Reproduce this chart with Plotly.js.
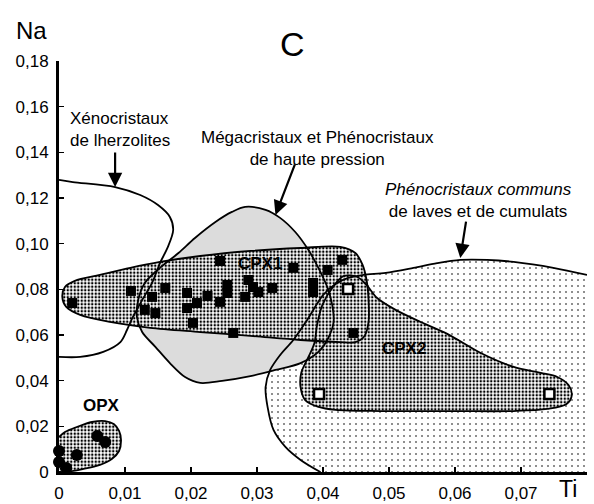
<!DOCTYPE html>
<html>
<head>
<meta charset="utf-8">
<script src="https://cdn.plot.ly/plotly-3.0.1.min.js"></script>
<style>html,body{margin:0;padding:0;background:#fff;}#chart{width:594px;height:504px;}</style>
</head>
<body>
<div id="chart"></div>
<script>
// ---- Data (Ti, Na) ----
const xenoTi = [0, 0.0021, 0.0085, 0.0123, 0.0150, 0.0168, 0.0173, 0.0165, 0.0153, 0.0141, 0.0126, 0.0112, 0.0103, 0.0093, 0.0067, 0.0032, 0];
const xenoNa = [0.1279, 0.1270, 0.1248, 0.1213, 0.1169, 0.1117, 0.1060, 0.0986, 0.0915, 0.0828, 0.0753, 0.0679, 0.0622, 0.0569, 0.0526, 0.0504, 0.0504];

const megaTi = [0.0282, 0.0313, 0.0335, 0.0358, 0.0378, 0.0393, 0.0407, 0.0414, 0.0416, 0.0408, 0.0393, 0.0366, 0.0328, 0.0290, 0.0247, 0.0214, 0.0191, 0.0168, 0.0146, 0.0126, 0.0118, 0.0120, 0.0130, 0.0153, 0.0181, 0.0206, 0.0237, 0.0262, 0.0282];
const megaNa = [0.1161, 0.1148, 0.1113, 0.1051, 0.0972, 0.0894, 0.0806, 0.0731, 0.0657, 0.0587, 0.0526, 0.0477, 0.0447, 0.0420, 0.0399, 0.0390, 0.0416, 0.0477, 0.0548, 0.0613, 0.0679, 0.0753, 0.0828, 0.0894, 0.0959, 0.1025, 0.1095, 0.1139, 0.1161];

const cpx1Ti = [0.0214, 0.0290, 0.0366, 0.0426, 0.0449, 0.0460, 0.0466, 0.0469, 0.0469, 0.0463, 0.0449, 0.0426, 0.0366, 0.0290, 0.0214, 0.0138, 0.0077, 0.0032, 0.0011, 0.0005, 0.0009, 0.0024, 0.0062, 0.0108, 0.0153, 0.0214];
const cpx1Na = [0.0946, 0.0968, 0.0981, 0.0986, 0.0959, 0.0907, 0.0841, 0.0753, 0.0657, 0.0596, 0.0569, 0.0569, 0.0578, 0.0596, 0.0613, 0.0631, 0.0657, 0.0688, 0.0723, 0.0767, 0.0810, 0.0837, 0.0863, 0.0894, 0.0920, 0.0946];

const cpx2Ti = [0.0593, 0.0487, 0.0419, 0.0393, 0.0373, 0.0366, 0.0367, 0.0378, 0.0387, 0.0391, 0.0399, 0.0414, 0.0431, 0.0452, 0.0466, 0.0482, 0.0510, 0.0548, 0.0589, 0.0639, 0.0689, 0.0730, 0.0755, 0.0772, 0.0777, 0.0769, 0.0740, 0.0689, 0.0593];
const cpx2Na = [0.0267, 0.0267, 0.0272, 0.0285, 0.0315, 0.0372, 0.0434, 0.0504, 0.0565, 0.0644, 0.0731, 0.0806, 0.0858, 0.0854, 0.0819, 0.0762, 0.0710, 0.0657, 0.0604, 0.0521, 0.0460, 0.0434, 0.0416, 0.0381, 0.0337, 0.0298, 0.0276, 0.0267, 0.0267];

const lavaTi = [0.0800, 0.0749, 0.0689, 0.0649, 0.0608, 0.0573, 0.0537, 0.0495, 0.0461, 0.0438, 0.0419, 0.0400, 0.0376, 0.0355, 0.0335, 0.0320, 0.0313, 0.0316, 0.0325, 0.0343, 0.0366, 0.0396, 0.0800];
const lavaNa = [0.0863, 0.0894, 0.0920, 0.0929, 0.0929, 0.0915, 0.0894, 0.0872, 0.0863, 0.0850, 0.0823, 0.0775, 0.0666, 0.0578, 0.0512, 0.0447, 0.0372, 0.0285, 0.0184, 0.0110, 0.0053, 0, 0];

const opxTi = [0, 0.0009, 0.0027, 0.0050, 0.0070, 0.0083, 0.0091, 0.0094, 0.0091, 0.0080, 0.0062, 0.0036, 0.0009, 0];
const opxNa = [0.0153, 0.0175, 0.0197, 0.0219, 0.0223, 0.0210, 0.0180, 0.0140, 0.0092, 0.0057, 0.0031, 0.0013, 0, 0];

// analyses
const cpx1PtsTi = [0.0020, 0.0109, 0.0141, 0.0130, 0.0146, 0.0161, 0.0194, 0.0194, 0.0209, 0.0225, 0.0203, 0.0244, 0.0255, 0.0255, 0.0244, 0.0264, 0.0287, 0.0294, 0.0282, 0.0302, 0.0323, 0.0355, 0.0385, 0.0385, 0.0407, 0.0429, 0.0446];
const cpx1PtsNa = [0.0740, 0.0793, 0.0767, 0.0710, 0.0696, 0.0806, 0.0784, 0.0718, 0.0740, 0.0771, 0.0653, 0.0924, 0.0819, 0.0784, 0.0745, 0.0609, 0.0841, 0.0810, 0.0767, 0.0788, 0.0806, 0.0894, 0.0828, 0.0788, 0.0885, 0.0929, 0.0609];
const cpx2PtsTi = [0.0438, 0.0394, 0.0743];
const cpx2PtsNa = [0.0802, 0.0342, 0.0342];
const opxPtsTi = [0.0058, 0.0070, 0.0027, 0.0000, 0.0000, 0.0011];
const opxPtsNa = [0.0158, 0.0131, 0.0074, 0.0092, 0.0044, 0.0018];

const xTickVals = [0, 0.01, 0.02, 0.03, 0.04, 0.05, 0.06, 0.07];
const xTickText = ['0', '0,01', '0,02', '0,03', '0,04', '0,05', '0,06', '0,07'];
const yTickVals = [0, 0.02, 0.04, 0.06, 0.08, 0.10, 0.12, 0.14, 0.16, 0.18];
const yTickText = ['0', '0,02', '0,04', '0,06', '0,08', '0,10', '0,12', '0,14', '0,16', '0,18'];

// ---- Traces ----
const FONT = 'Liberation Sans, Arial, Helvetica, sans-serif';
const spline = {shape: 'spline', smoothing: 0.9};
function fillTrace(x, y, pattern, fillcolor) {
  const t = {x: x, y: y, mode: 'lines', fill: 'toself', hoverinfo: 'skip',
    line: Object.assign({width: 0, color: 'rgba(0,0,0,0)'}, spline)};
  if (pattern) { t.fillpattern = pattern; t.fillcolor = pattern.bgcolor; }
  else { t.fillcolor = fillcolor; }
  return t;
}
function lineTrace(x, y) {
  return {x: x, y: y, mode: 'lines', hoverinfo: 'skip',
    line: Object.assign({width: 1.8, color: '#000'}, spline)};
}
const dense = {shape: '.', size: 3.5, solidity: 0.4, fgcolor: '#000', bgcolor: '#fff', fillmode: 'replace'};
const sparse = {shape: '.', size: 6, solidity: 0.06, fgcolor: '#000', bgcolor: '#fff', fillmode: 'replace'};

const traces = [
  fillTrace(lavaTi, lavaNa, sparse),
  fillTrace(megaTi, megaNa, null, '#dcdcdc'),
  fillTrace(cpx2Ti, cpx2Na, dense),
  fillTrace(cpx1Ti, cpx1Na, dense),
  fillTrace(opxTi, opxNa, dense),
  lineTrace(xenoTi, xenoNa),
  lineTrace(lavaTi.slice(0, lavaTi.length - 1), lavaNa.slice(0, lavaNa.length - 1)),
  lineTrace(megaTi, megaNa),
  lineTrace(cpx2Ti, cpx2Na),
  lineTrace(cpx1Ti, cpx1Na),
  lineTrace(opxTi, opxNa),
  {x: cpx1PtsTi, y: cpx1PtsNa, mode: 'markers', cliponaxis: false,
   marker: {symbol: 'square', size: 10, color: '#000'}},
  {x: cpx2PtsTi, y: cpx2PtsNa, mode: 'markers', cliponaxis: false,
   marker: {symbol: 'square', size: 10, color: '#fff', line: {color: '#000', width: 2.5}}},
  {x: opxPtsTi, y: opxPtsNa, mode: 'markers', cliponaxis: false,
   marker: {symbol: 'circle', size: 12, color: '#000'}}
];

function txt(x, y, text, opts) {
  return Object.assign({x: x, y: y, xref: 'x', yref: 'y', text: text, showarrow: false,
    xanchor: 'center', yanchor: 'middle',
    font: {family: FONT, size: 17, color: '#000'}}, opts || {});
}
function ptxt(x, y, text, size, yanchor) {
  return {x: x, y: y, xref: 'paper', yref: 'paper', text: text, showarrow: false,
    xanchor: 'center', yanchor: yanchor || 'middle', font: {family: FONT, size: size, color: '#000'}};
}
function arrow(x, y, ax, ay) {
  return {x: x, y: y, xref: 'x', yref: 'y', ax: ax, ay: ay, text: '', showarrow: true,
    arrowhead: 2, arrowsize: 1.3, arrowwidth: 2.2, arrowcolor: '#000', standoff: 0};
}

const annotations = [
  ptxt(-0.053, 1.075, 'Na', 24),
  ptxt(0.964, -0.0779, 'Ti', 23, 'bottom'),
  ptxt(0.443, 1.041, 'C', 34),
  txt(0.00136, 0.1498, 'Xénocristaux<br>de lherzolites', {xanchor: 'left', align: 'left'}),
  txt(0.0392, 0.1419, 'Mégacristaux et Phénocristaux<br>de haute pression'),
  txt(0.0635, 0.1187, '<i>Phénocristaux communs</i><br>de laves et de cumulats'),
  txt(0.0305, 0.0915, '<b>CPX1</b>'),
  txt(0.0523, 0.0543, '<b>CPX2</b>'),
  txt(0.0065, 0.0293, '<b>OPX</b>'),
  arrow(0.0085, 0.1248, 0, -36),
  arrow(0.0328, 0.1126, 20, -52),
  arrow(0.0608, 0.0937, 6, -38)
];

const layout = {
  width: 594, height: 504,
  margin: {l: 59, r: 7, t: 61, b: 32, pad: 0},
  paper_bgcolor: '#fff', plot_bgcolor: '#fff',
  showlegend: false,
  font: {family: FONT, color: '#000'},
  xaxis: {range: [0, 0.08], tickvals: xTickVals, ticktext: xTickText, ticks: 'inside',
    ticklen: 5, tickwidth: 1.5, tickcolor: '#000', showline: true, linewidth: 3, linecolor: '#000',
    showgrid: false, zeroline: false, tickfont: {family: FONT, size: 17, color: '#000'},
    ticklabelstandoff: 4, fixedrange: true},
  yaxis: {range: [0, 0.18], tickvals: yTickVals, ticktext: yTickText, ticks: 'inside',
    ticklen: 5, tickwidth: 1.5, tickcolor: '#000', showline: true, linewidth: 3, linecolor: '#000',
    showgrid: false, zeroline: false, tickfont: {family: FONT, size: 17, color: '#000'},
    ticklabelstandoff: 4, fixedrange: true},
  annotations: annotations
};

Plotly.newPlot('chart', traces, layout, {displayModeBar: false, staticPlot: true});
</script>
</body>
</html>
